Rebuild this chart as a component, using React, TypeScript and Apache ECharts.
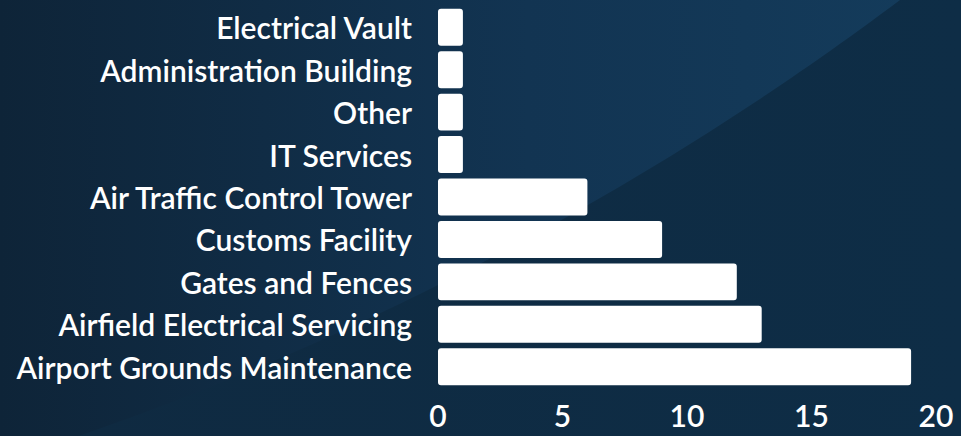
import React, { useEffect, useRef } from "react";
import * as echarts from "echarts";

const categories = [
  "Electrical Vault",
  "Administration Building",
  "Other",
  "IT Services",
  "Air Traffic Control Tower",
  "Customs Facility",
  "Gates and Fences",
  "Airfield Electrical Servicing",
  "Airport Grounds Maintenance",
];
const values = [1, 1, 1, 1, 6, 9, 12, 13, 19];
const axisMin = 0;
const axisMax = 20;
const axisInterval = 5;

function arcPoints(): number[][] {
  // decorative background curve (not data)
  const cx = -900, cy = -2400, r = 3000;
  const pts: number[][] = [];
  for (let x = 60; x <= 910; x += 10) {
    const y = cy + Math.sqrt(r * r - (x - cx) * (x - cx));
    pts.push([x, y]);
  }
  pts.push([961, -5], [961, 436], [60, 436]);
  return pts;
}

export default function App() {
  const ref = useRef<HTMLDivElement>(null);
  useEffect(() => {
    document.body.style.margin = "0";
    const chart = echarts.init(ref.current!, null, { renderer: "svg" });
    chart.setOption({
      animation: false,
      backgroundColor: {
        type: "linear",
        x: 0, y: 0, x2: 1, y2: 0,
        colorStops: [
          { offset: 0, color: "#0e2438" },
          { offset: 0.55, color: "#123452" },
          { offset: 1, color: "#143c5c" },
        ],
      },
      graphic: [
        {
          type: "polygon",
          z: -10,
          silent: true,
          shape: { points: arcPoints() },
          style: {
            fill: {
              type: "linear",
              x: 0, y: 0, x2: 1, y2: 0,
              colorStops: [
                { offset: 0, color: "#0f2a41" },
                { offset: 1, color: "#0e2d46" },
              ],
            },
          },
        },
      ],
      grid: { left: 438, right: 25, top: 6, bottom: 48, containLabel: false },
      xAxis: {
        type: "value",
        min: axisMin,
        max: axisMax,
        interval: axisInterval,
        splitLine: { show: false },
        axisLine: { show: false },
        axisTick: { show: false },
        axisLabel: {
          color: "#ffffff",
          fontFamily: "Lato",
          fontWeight: 600,
          fontSize: 30,
          margin: 12,
        },
      },
      yAxis: {
        type: "category",
        inverse: true,
        data: categories,
        axisLine: { show: false },
        axisTick: { show: false },
        axisLabel: {
          color: "#ffffff",
          fontFamily: "Lato",
          fontWeight: 600,
          fontSize: 30,
          margin: 26,
        },
      },
      series: [
        {
          type: "bar",
          data: values,
          barCategoryGap: "13%",
          itemStyle: { color: "#ffffff", borderRadius: 3 },
        },
      ],
    });
    return () => chart.dispose();
  }, []);
  return <div ref={ref} style={{ width: 961, height: 436 }} />;
}
